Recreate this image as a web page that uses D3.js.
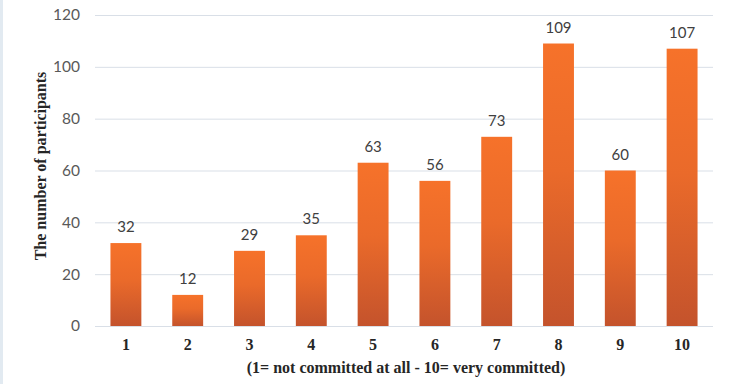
<!DOCTYPE html>
<html>
<head>
<meta charset="utf-8">
<script src="https://cdn.jsdelivr.net/npm/d3@7"></script>
<style>
  body { margin: 0; background: #fff; }
  svg { display: block; }
</style>
</head>
<body>
<script>
const categories = ["1", "2", "3", "4", "5", "6", "7", "8", "9", "10"];
const values = [32, 12, 29, 35, 63, 56, 73, 109, 60, 107];
const yTicks = [0, 20, 40, 60, 80, 100, 120];

const w = 732, h = 384;
const svg = d3.select("body")
  .append("svg")
  .attr("width", w)
  .attr("height", h);

// left page border
svg.append("rect")
  .attr("x", 0).attr("y", 0)
  .attr("width", 3).attr("height", h)
  .attr("fill", "#e2eaf1");

const grad = svg.append("defs").append("linearGradient")
  .attr("id", "barGrad")
  .attr("x1", 0).attr("y1", 0).attr("x2", 0).attr("y2", 1);
grad.append("stop").attr("offset", "0%").attr("stop-color", "#f6722a");
grad.append("stop").attr("offset", "45%").attr("stop-color", "#ea6a2a");
grad.append("stop").attr("offset", "100%").attr("stop-color", "#c4532c");

const xScale = d3.scaleBand()
  .domain(categories)
  .range([95, 713])
  .paddingInner(0.5)
  .paddingOuter(0.25);

const yScale = d3.scaleLinear()
  .domain([0, 120])
  .range([326, 15]);

// gridlines
svg.append("g")
  .selectAll("line")
  .data(yTicks)
  .enter()
  .append("line")
  .attr("x1", 95).attr("x2", 713)
  .attr("y1", d => yScale(d) + 0.5)
  .attr("y2", d => yScale(d) + 0.5)
  .attr("stroke", "#d9dfe7")
  .attr("stroke-width", 1);

let yAxis = d3.axisLeft(yScale)
  .tickValues(yTicks)
  .tickSize(0)
  .tickPadding(0);

const yg = svg.append("g")
  .attr("transform", "translate(80, 0)")
  .call(yAxis);
yg.select(".domain").remove();
yg.selectAll("text")
  .attr("font-family", "Lato, 'Open Sans', sans-serif")
  .attr("font-size", 15.5)
  .attr("fill", "#595959");

let xAxis = d3.axisBottom(xScale)
  .tickSize(0)
  .tickPadding(13);

const xg = svg.append("g")
  .attr("transform", "translate(0, 326)")
  .call(xAxis);
xg.select(".domain").remove();
xg.selectAll("text")
  .attr("font-family", "'Liberation Serif', 'Times New Roman', serif")
  .attr("font-weight", "bold")
  .attr("font-size", 16)
  .attr("fill", "#262626");

// bars
svg.append("g")
  .selectAll("rect")
  .data(values)
  .enter()
  .append("rect")
  .attr("x", (d, i) => xScale(categories[i]))
  .attr("y", d => yScale(d))
  .attr("width", xScale.bandwidth())
  .attr("height", d => yScale(0) - yScale(d))
  .attr("fill", "url(#barGrad)");

// value labels
svg.append("g")
  .selectAll("text")
  .data(values)
  .enter()
  .append("text")
  .attr("x", (d, i) => xScale(categories[i]) + xScale.bandwidth() / 2)
  .attr("y", d => yScale(d) - 11)
  .attr("text-anchor", "middle")
  .attr("font-family", "Lato, 'Open Sans', sans-serif")
  .attr("font-size", 15)
  .attr("fill", "#404040")
  .text(d => d);

// axis titles
svg.append("text")
  .attr("x", 406)
  .attr("y", 373)
  .attr("text-anchor", "middle")
  .attr("font-family", "'Liberation Serif', 'Times New Roman', serif")
  .attr("font-weight", "bold")
  .attr("font-size", 16)
  .attr("fill", "#262626")
  .text("(1= not committed at all - 10= very committed)");

svg.append("text")
  .attr("transform", "translate(46, 166) rotate(-90)")
  .attr("text-anchor", "middle")
  .attr("font-family", "'Liberation Serif', 'Times New Roman', serif")
  .attr("font-weight", "bold")
  .attr("font-size", 16)
  .attr("fill", "#262626")
  .text("The number of participants");
</script>
</body>
</html>
